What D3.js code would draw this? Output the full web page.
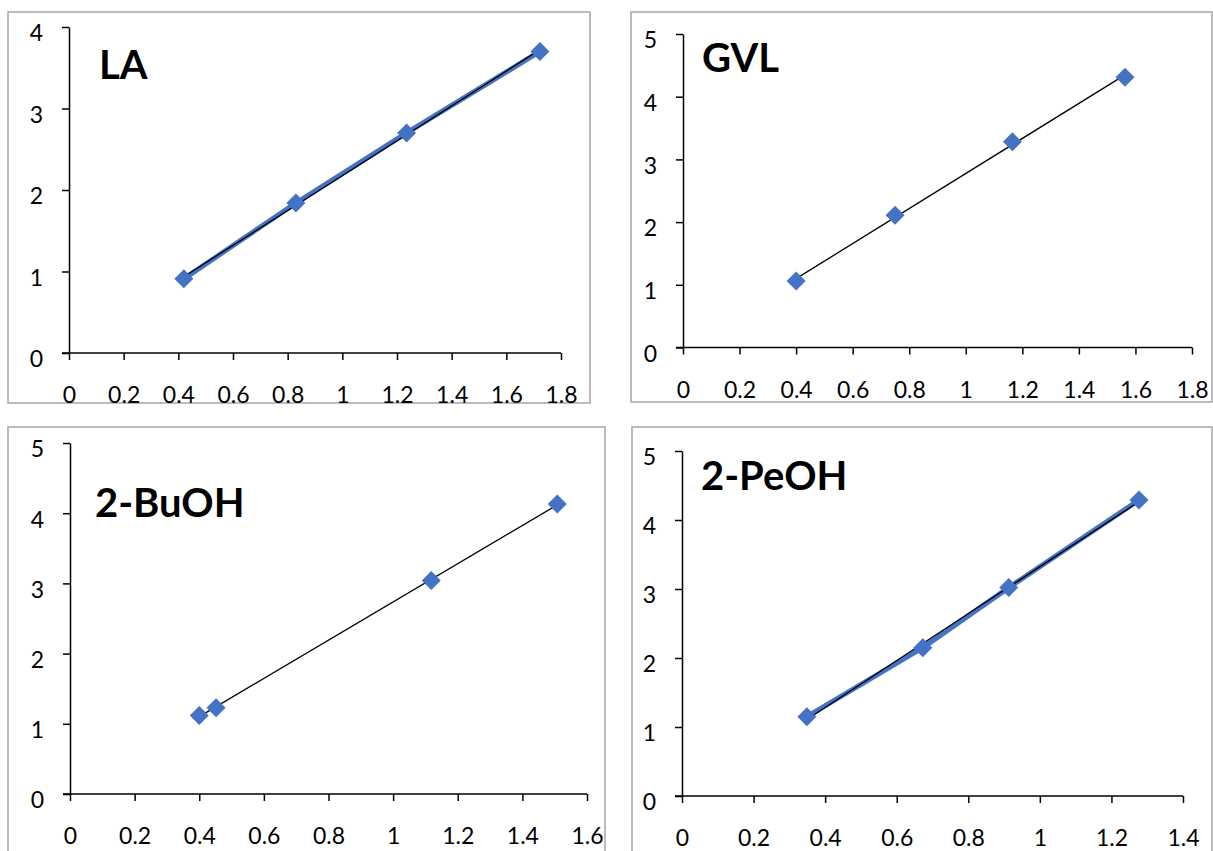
<!DOCTYPE html>
<html><head><meta charset="utf-8">
<script src="https://cdn.jsdelivr.net/npm/d3@7"></script>
<style>body{margin:0;background:#fff}svg{display:block}</style>
</head><body>
<svg id="c" width="1213" height="851"></svg>
<script>
// ---- data ----
const titles = ["LA", "GVL", "2-BuOH", "2-PeOH"];
const laX = [0.42, 0.83, 1.235, 1.723];
const laY = [0.91, 1.84, 2.70, 3.70];
const gvlX = [0.40, 0.75, 1.165, 1.563];
const gvlY = [1.06, 2.11, 3.28, 4.31];
const buX = [0.40, 0.452, 1.118, 1.508];
const buY = [1.12, 1.23, 3.04, 4.13];
const peX = [0.349, 0.673, 0.913, 1.277];
const peY = [1.15, 2.15, 3.02, 4.29];
const xTicksA = [0, 0.2, 0.4, 0.6, 0.8, 1, 1.2, 1.4, 1.6, 1.8];
const xTicksB = [0, 0.2, 0.4, 0.6, 0.8, 1, 1.2, 1.4, 1.6];
const xTicksC = [0, 0.2, 0.4, 0.6, 0.8, 1, 1.2, 1.4];
const yTicks4 = [0, 1, 2, 3, 4];
const yTicks5 = [0, 1, 2, 3, 4, 5];

const panels = [
  {title: titles[0], xs: laX, ys: laY, xt: xTicksA, yt: yTicks4, blueLine: true,
   frame: [8, 12, 590, 403], px: [69, 561], py: [353, 27], titlePos: [99, 78.5]},
  {title: titles[1], xs: gvlX, ys: gvlY, xt: xTicksA, yt: yTicks5, blueLine: false,
   frame: [631, 12, 1212, 402], px: [683, 1192], py: [347.5, 34], titlePos: [702, 71.5]},
  {title: titles[2], xs: buX, ys: buY, xt: xTicksB, yt: yTicks5, blueLine: false,
   frame: [8, 427, 605, 860], px: [70, 587], py: [794, 443], titlePos: [95, 517]},
  {title: titles[3], xs: peX, ys: peY, xt: xTicksC, yt: yTicks5, blueLine: true,
   frame: [632, 427, 1212, 860], px: [682, 1183], py: [796, 451], titlePos: [701, 490]}
];

const svg = d3.select("#c");
const blue = "#4472C4";
const diamond = r => `M0,${-r}L${r},0L0,${r}L${-r},0Z`;
const FONT = "Lato, 'Open Sans', sans-serif";

panels.forEach(p => {
  const g = svg.append("g");
  const [fx0, fy0, fx1, fy1] = p.frame;
  g.append("rect").attr("x", fx0).attr("y", fy0).attr("width", fx1 - fx0).attr("height", fy1 - fy0)
    .attr("fill", "#fff").attr("stroke", "#a6a6a6").attr("stroke-width", 1.5);

  const x = d3.scaleLinear().domain([p.xt[0], p.xt[p.xt.length - 1]]).range(p.px);
  const y = d3.scaleLinear().domain([p.yt[0], p.yt[p.yt.length - 1]]).range(p.py);

  const xAxis = d3.axisBottom(x).tickValues(p.xt).tickSize(7).tickSizeOuter(0).tickPadding(27)
    .tickFormat(d => String(d));
  const yAxis = d3.axisLeft(y).tickValues(p.yt).tickSize(7).tickSizeOuter(0).tickPadding(19)
    .tickFormat(d => String(d));

  const gx = g.append("g").attr("transform", `translate(0,${p.py[0]})`).call(xAxis);
  const gy = g.append("g").attr("transform", `translate(${p.px[0]},0)`).call(yAxis);
  [gx, gy].forEach(a => {
    a.select(".domain").attr("stroke", "#000").attr("stroke-width", 1.5);
    a.selectAll(".tick line").attr("stroke", "#000").attr("stroke-width", 1.5);
    a.selectAll(".tick text").attr("fill", "#000").style("font-family", FONT).style("font-size", "23px");
  });
  gy.selectAll(".tick text").attr("dy", "0.6em");
  gx.select(".domain").attr("d", `M${p.px[0] - 7},0H${p.px[1]}`);

  const pts = p.xs.map((v, i) => [v, p.ys[i]]);

  if (p.blueLine) {
    g.append("path").datum(pts)
      .attr("d", d3.line().x(d => x(d[0])).y(d => y(d[1])))
      .attr("fill", "none").attr("stroke", blue).attr("stroke-width", 5).attr("stroke-linejoin", "round");
  }
  // linear trendline (least squares)
  const mx = d3.mean(p.xs), my = d3.mean(p.ys);
  const slope = d3.sum(pts, d => (d[0] - mx) * (d[1] - my)) / d3.sum(pts, d => (d[0] - mx) ** 2);
  const icpt = my - slope * mx;
  const xmin = d3.min(p.xs), xmax = d3.max(p.xs);
  g.append("line")
    .attr("x1", x(xmin)).attr("y1", y(icpt + slope * xmin))
    .attr("x2", x(xmax)).attr("y2", y(icpt + slope * xmax))
    .attr("stroke", "#000").attr("stroke-width", 1.3);

  g.selectAll("path.m").data(pts).enter().append("path").attr("class", "m")
    .attr("transform", d => `translate(${x(d[0])},${y(d[1])})`)
    .attr("d", diamond(9.5)).attr("fill", blue);

  g.append("text").attr("x", p.titlePos[0]).attr("y", p.titlePos[1])
    .text(p.title).attr("fill", "#000")
    .style("font-family", FONT).style("font-weight", "bold").style("font-size", "40px");
});
</script>
</body></html>
